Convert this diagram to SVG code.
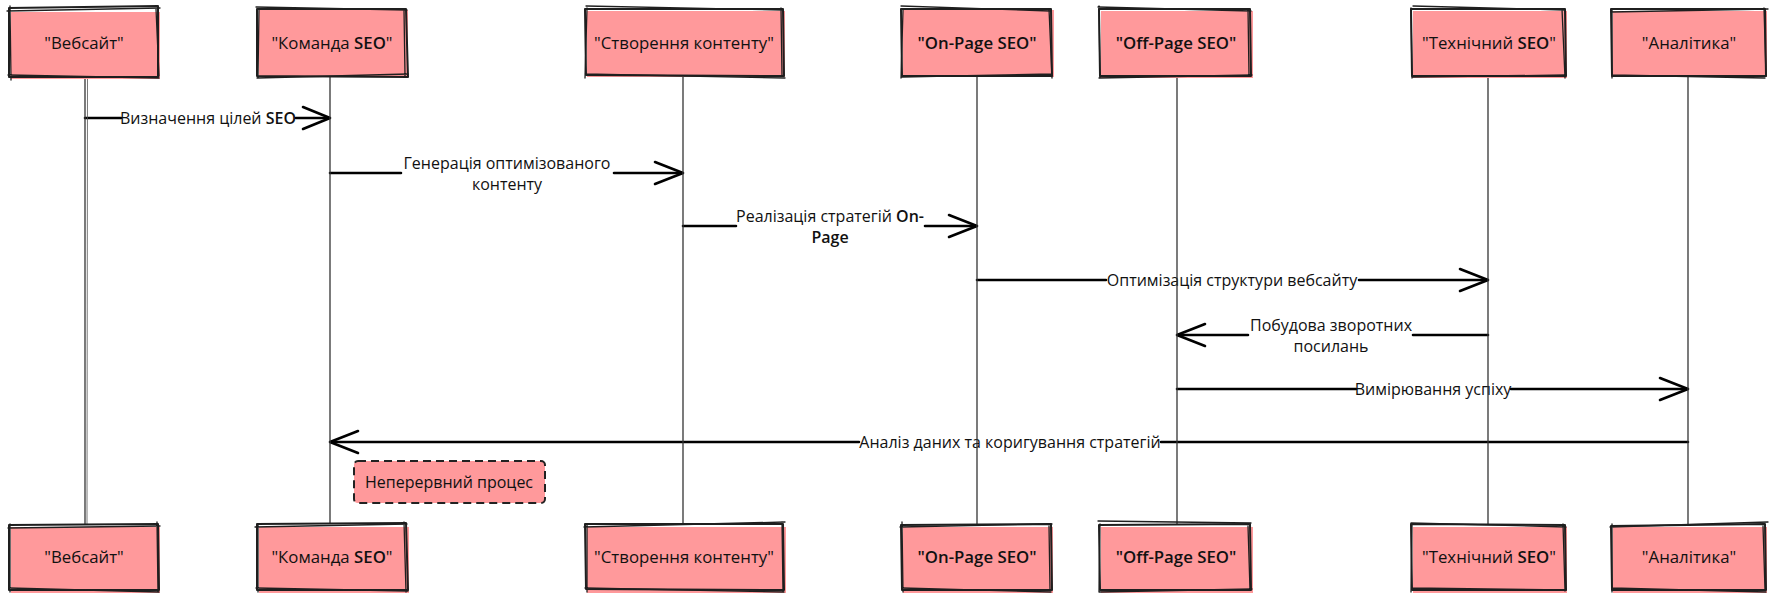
<svg xmlns="http://www.w3.org/2000/svg" width="1773" height="600" viewBox="0 0 1773 600">
<style>
.fill{fill:#ff999b;stroke:none}
.sk{fill:none;stroke:#1f1f1f;stroke-width:2;stroke-linejoin:round;stroke-linecap:round}
.sk2{fill:none;stroke:#1f1f1f;stroke-width:1.3;stroke-linecap:round}
.lbl{font-family:"Open Sans","Noto Sans",sans-serif;font-size:16.8px;fill:#111;text-anchor:middle}
.lat{font-weight:600}
.life{stroke:#333;stroke-width:1.3;fill:none}
.life2{stroke:#555;stroke-width:0.8;fill:none}
.msg{stroke:#000;stroke-width:2.6;fill:none;stroke-linecap:round}
.head{stroke:#000;stroke-width:2.6;fill:none;stroke-linecap:round;stroke-linejoin:round}
.mt{font-family:"Open Sans","Noto Sans",sans-serif;font-size:16px;fill:#111;text-anchor:middle}
.note{fill:#ff999b;stroke:#222;stroke-width:2;stroke-dasharray:8 5}
</style>

<g id="connectors">
<!-- 1 -->
<path class="msg" d="M85 118 L121 118 M296 118 L329 118"/>
<path class="head" d="M303 107 L330 118 L303 129"/>
<text class="mt" x="208" y="124">Визначення цілей <tspan class="lat">SEO</tspan></text>
<!-- 2 -->
<path class="msg" d="M330 173 L401 173 M614 173 L682 173"/>
<path class="head" d="M655 162 L683 173 L655 184"/>
<text class="mt" x="507" y="169">Генерація оптимізованого</text>
<text class="mt" x="507" y="190">контенту</text>
<!-- 3 -->
<path class="msg" d="M683 226 L736 226 M925 226 L976 226"/>
<path class="head" d="M949 215 L977 226 L949 237"/>
<text class="mt" x="830" y="222">Реалізація стратегій <tspan class="lat">On-</tspan></text>
<text class="mt" x="830" y="243"><tspan class="lat">Page</tspan></text>
<!-- 4 -->
<path class="msg" d="M977 280 L1106 280 M1359 280 L1487 280"/>
<path class="head" d="M1460 269 L1488 280 L1460 291"/>
<text class="mt" x="1232" y="286">Оптимізація структури вебсайту</text>
<!-- 5 -->
<path class="msg" d="M1488 335 L1413 335 M1248 335 L1178 335"/>
<path class="head" d="M1205 324 L1177 335 L1205 346"/>
<text class="mt" x="1331" y="331">Побудова зворотних</text>
<text class="mt" x="1331" y="352">посилань</text>
<!-- 6 -->
<path class="msg" d="M1177 389 L1356 389 M1511 389 L1687 389"/>
<path class="head" d="M1660 378 L1688 389 L1660 400"/>
<text class="mt" x="1433" y="395">Вимірювання успіху</text>
<!-- 7 -->
<path class="msg" d="M1688 442 L1161 442 M859 442 L331 442"/>
<path class="head" d="M358 431 L330 442 L358 453"/>
<text class="mt" x="1010" y="448">Аналіз даних та коригування стратегій</text>
</g>

<g id="lifelines">
<path class="life" d="M85 76 L85 524"/>
<path class="life2" d="M87.5 76 L87 524"/>
<path class="life" d="M330 76 L330 524"/>
<path class="life" d="M683 76 L683 524"/>
<path class="life" d="M977 76 L977 524"/>
<path class="life" d="M1177 76 L1177 524"/>
<path class="life" d="M1488 76 L1488 524"/>
<path class="life" d="M1688 76 L1688 524"/>
</g>

<g id="note-continuous">
<rect x="354" y="461" width="191" height="42" rx="4" class="note"/>
<text class="mt" x="449" y="488">Неперервний процес</text>
</g>

<g id="p-website">
<rect class="fill" x="11" y="12" width="149" height="67"/>
<path class="sk" d="M9 8 L158 6 L158 77 L9 77 Z"/>
<path class="sk2" d="M7 11 L160 8 M10 6 L11 80 M156 9 L159 76 M8 75 L159 78"/>
<text class="lbl" x="84" y="49">"Вебсайт"</text>
<rect class="fill" x="11" y="527" width="149" height="66"/>
<path class="sk" d="M9 525 L158 524 L159 590 L9 590 Z"/>
<path class="sk2" d="M8 528 L160 526 M10 524 L10 592 M157 522 L158 592 M9 588 L159 592"/>
<text class="lbl" x="84" y="563">"Вебсайт"</text>
</g>

<g id="p-seo-team">
<rect class="fill" x="259" y="10" width="149" height="67"/>
<path class="sk" d="M257 9 L406 9 L408 77 L257 76 Z"/>
<path class="sk2" d="M256 7 L407 10 M259 8 L258 78 M404 10 L405 76 M257 78 L408 74"/>
<text class="lbl" x="332" y="49">"Команда <tspan class="lat">SEO</tspan>"</text>
<rect class="fill" x="259" y="527" width="150" height="66"/>
<path class="sk" d="M257 524 L406 523 L408 590 L257 590 Z"/>
<path class="sk2" d="M255 527 L407 524 M258 524 L258 592 M404 522 L406 592 M256 588 L408 591"/>
<text class="lbl" x="332" y="563">"Команда <tspan class="lat">SEO</tspan>"</text>
</g>

<g id="p-content">
<rect class="fill" x="587" y="11" width="198" height="66"/>
<path class="sk" d="M585 9 L783 9 L784 76 L586 75 Z"/>
<path class="sk2" d="M586 6 L782 10 M587 8 L585 78 M781 8 L782 76 M585 74 L785 78"/>
<text class="lbl" x="684" y="49">"Створення контенту"</text>
<rect class="fill" x="587" y="527" width="199" height="66"/>
<path class="sk" d="M585 524 L783 524 L784 590 L586 589 Z"/>
<path class="sk2" d="M584 527 L785 522 M587 524 L587 592 M782 522 L783 592 M585 588 L784 592"/>
<text class="lbl" x="684" y="563">"Створення контенту"</text>
</g>

<g id="p-onpage">
<rect class="fill" x="903" y="10" width="151" height="67"/>
<path class="sk" d="M901 9 L1051 9 L1052 76 L902 76 Z"/>
<path class="sk2" d="M901 6 L1050 11 M903 10 L901 78 M1049 9 L1052 78 M902 77 L1052 74"/>
<text class="lbl lat" x="977" y="49">"On-Page SEO"</text>
<rect class="fill" x="903" y="527" width="150" height="66"/>
<path class="sk" d="M901 525 L1051 524 L1052 590 L902 590 Z"/>
<path class="sk2" d="M900 527 L1052 524 M902 522 L903 592 M1049 526 L1050 590 M902 588 L1051 592"/>
<text class="lbl lat" x="977" y="563">"On-Page SEO"</text>
</g>

<g id="p-offpage">
<rect class="fill" x="1101" y="11" width="152" height="67"/>
<path class="sk" d="M1099 9 L1250 9 L1251 76 L1100 76 Z"/>
<path class="sk2" d="M1098 7 L1251 11 M1099 6 L1100 78 M1248 9 L1249 76 M1099 78 L1252 75"/>
<text class="lbl lat" x="1176" y="49">"Off-Page SEO"</text>
<rect class="fill" x="1101" y="527" width="152" height="66"/>
<path class="sk" d="M1099 525 L1250 524 L1251 590 L1100 590 Z"/>
<path class="sk2" d="M1098 521 L1251 523 M1100 524 L1099 592 M1248 526 L1250 590 M1099 592 L1252 589"/>
<text class="lbl lat" x="1176" y="563">"Off-Page SEO"</text>
</g>

<g id="p-technical">
<rect class="fill" x="1413" y="11" width="154" height="67"/>
<path class="sk" d="M1411 9 L1565 9 L1566 76 L1412 76 Z"/>
<path class="sk2" d="M1413 6 L1564 10 M1411 8 L1412 78 M1562 9 L1565 78 M1412 77 L1566 75"/>
<text class="lbl" x="1489" y="49">"Технічний <tspan class="lat">SEO</tspan>"</text>
<rect class="fill" x="1413" y="527" width="154" height="66"/>
<path class="sk" d="M1411 524 L1565 525 L1566 590 L1412 590 Z"/>
<path class="sk2" d="M1411 523 L1566 527 M1412 525 L1411 592 M1563 524 L1565 591 M1411 588 L1566 590"/>
<text class="lbl" x="1489" y="563">"Технічний <tspan class="lat">SEO</tspan>"</text>
</g>

<g id="p-analytics">
<rect class="fill" x="1613" y="11" width="154" height="66"/>
<path class="sk" d="M1611 9 L1765 9 L1766 76 L1612 76 Z"/>
<path class="sk2" d="M1611 12 L1768 9 M1612 10 L1612 78 M1764 8 L1766 76 M1612 75 L1765 78"/>
<text class="lbl" x="1689" y="49">"Аналітика"</text>
<rect class="fill" x="1613" y="527" width="154" height="66"/>
<path class="sk" d="M1611 526 L1765 524 L1766 590 L1612 590 Z"/>
<path class="sk2" d="M1610 527 L1768 522 M1612 524 L1612 592 M1763 526 L1765 590 M1612 588 L1766 592"/>
<text class="lbl" x="1689" y="563">"Аналітика"</text>
</g>
</svg>
